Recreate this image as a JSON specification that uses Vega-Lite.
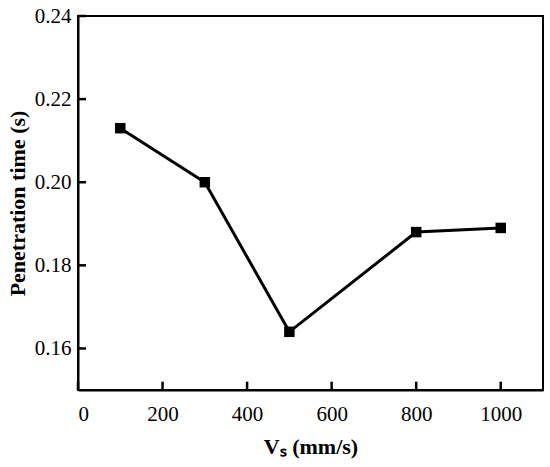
{
  "$schema": "https://vega.github.io/schema/vega-lite/v6.json",
  "autosize": {"type": "none"},
  "width": 465,
  "height": 374,
  "padding": {"left": 78, "top": 16, "right": 7, "bottom": 77},
  "background": "white",
  "config": {
    "view": {"stroke": "black", "strokeWidth": 2},
    "axis": {
      "domainColor": "black", "domainWidth": 2,
      "ticks": false, "tickSize": 0,
      "labelFont": "Liberation Serif", "labelFontSize": 21, "labelColor": "black",
      "titleFont": "Liberation Serif", "titleFontSize": 22, "titleFontWeight": "bold", "titleColor": "black",
      "grid": false
    }
  },
  "layer": [
    {
      "data": {"values": [
        {"v": 100, "t": 0.213},
        {"v": 300, "t": 0.200},
        {"v": 500, "t": 0.164},
        {"v": 800, "t": 0.188},
        {"v": 1000, "t": 0.189}
      ]},
      "encoding": {
        "x": {"field": "v", "type": "quantitative", "scale": {"domain": [0, 1100], "nice": false},
          "axis": {"values": [0, 200, 400, 600, 800, 1000], "format": "d", "title": "Vₛ (mm/s)", "labelPadding": 13, "titlePadding": 12}},
        "y": {"field": "t", "type": "quantitative", "scale": {"domain": [0.15, 0.24], "nice": false, "zero": false},
          "axis": {"values": [0.16, 0.18, 0.2, 0.22, 0.24], "format": ".2f", "title": "Penetration time (s)", "labelPadding": 7, "titlePadding": 5}}
      },
      "layer": [
        {"mark": {"type": "line", "color": "black", "strokeWidth": 3}},
        {"mark": {"type": "point", "shape": "square", "filled": true, "color": "black", "size": 110, "opacity": 1}}
      ]
    },
    {
      "data": {"values": [{"v": 0}, {"v": 200}, {"v": 400}, {"v": 600}, {"v": 800}, {"v": 1000}]},
      "mark": {"type": "rule", "color": "black", "strokeWidth": 2.5},
      "encoding": {
        "x": {"field": "v", "type": "quantitative"},
        "y": {"datum": 0.15},
        "y2": {"datum": 0.152}
      }
    },
    {
      "data": {"values": [{"t": 0.16}, {"t": 0.18}, {"t": 0.20}, {"t": 0.22}, {"t": 0.24}]},
      "mark": {"type": "rule", "color": "black", "strokeWidth": 2.5},
      "encoding": {
        "y": {"field": "t", "type": "quantitative"},
        "x": {"datum": 0},
        "x2": {"datum": 19}
      }
    }
  ]
}
